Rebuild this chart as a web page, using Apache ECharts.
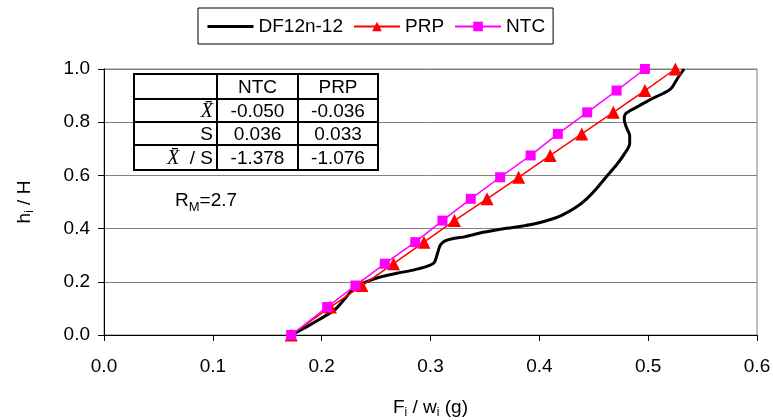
<!DOCTYPE html>
<html>
<head>
<meta charset="utf-8">
<script src="https://cdn.jsdelivr.net/npm/echarts@6/dist/echarts.min.js"></script>
<style>html,body{margin:0;padding:0;background:#fff;}#c{width:773px;height:420px;}</style>
</head>
<body>
<div id="c"></div>
<script>
// ---- data ----
var heights = [0.000, 0.105, 0.186, 0.268, 0.349, 0.430, 0.512, 0.593, 0.675, 0.756, 0.837, 0.919, 1.000];
var ntcX = [0.172, 0.205, 0.231, 0.258, 0.286, 0.311, 0.337, 0.364, 0.392, 0.417, 0.444, 0.471, 0.497];
var prpX = [0.172, 0.208, 0.237, 0.266, 0.294, 0.322, 0.352, 0.381, 0.410, 0.439, 0.468, 0.497, 0.525];
var dfX = [0.172, 0.190, 0.212, 0.222, 0.231, 0.241, 0.253, 0.269, 0.284, 0.296, 0.303, 0.305, 0.307, 0.309, 0.313, 0.320, 0.330, 0.340, 0.350, 0.370, 0.385, 0.397, 0.411, 0.421, 0.433, 0.443, 0.452, 0.461, 0.471, 0.478, 0.483, 0.483, 0.480, 0.478, 0.479, 0.484, 0.491, 0.501, 0.514, 0.521, 0.527, 0.533];
var dfY = [0.000, 0.040, 0.095, 0.140, 0.180, 0.200, 0.217, 0.232, 0.244, 0.257, 0.270, 0.288, 0.315, 0.338, 0.353, 0.362, 0.368, 0.378, 0.387, 0.401, 0.410, 0.419, 0.435, 0.451, 0.478, 0.510, 0.548, 0.592, 0.640, 0.680, 0.720, 0.750, 0.780, 0.810, 0.830, 0.845, 0.860, 0.883, 0.909, 0.927, 0.965, 1.000];
var seriesNames = ['DF12n-12', 'PRP', 'NTC'];
var tableHeaders = ['NTC', 'PRP'];
var tableRowLabels = ['{xb|X\u0304}', '{n|S}', '{xb|X\u0304}{n|  / S}'];
var ntcStats = ['-0.050', '0.036', '-1.378'];
var prpStats = ['-0.036', '0.033', '-1.076'];
var rmLabel = '{r|R}{s|M}{r|=2.7}';

var FONT = '"Liberation Sans", Arial, sans-serif';
function pairs(xs, ys) { return xs.map(function (x, i) { return [x, ys[i]]; }); }

// ---- table graphic ----
var colEdges = [134, 217, 298, 378];
var rowEdges = [74, 99, 122, 145, 170];
var g = [];
g.push({ type: 'rect', shape: { x: colEdges[0], y: rowEdges[0], width: colEdges[3] - colEdges[0], height: rowEdges[4] - rowEdges[0] }, style: { fill: '#fff', stroke: '#000', lineWidth: 2 }, z: 100 });
for (var r = 1; r < rowEdges.length - 1; r++) {
  g.push({ type: 'line', shape: { x1: colEdges[0], y1: rowEdges[r], x2: colEdges[3], y2: rowEdges[r] }, style: { stroke: '#000', lineWidth: 2 }, z: 101 });
}
for (var c = 1; c < colEdges.length - 1; c++) {
  g.push({ type: 'line', shape: { x1: colEdges[c], y1: rowEdges[0], x2: colEdges[c], y2: rowEdges[4] }, style: { stroke: '#000', lineWidth: 2 }, z: 101 });
}
var rich = {
  xb: { fontFamily: '"Liberation Serif", "Times New Roman", serif', fontStyle: 'italic', fontSize: 20, fill: '#000', color: '#000' },
  n: { fontFamily: FONT, fontSize: 19, fill: '#000', color: '#000' }
};
function cellText(txt, cx, cy, align) {
  g.push({ type: 'text', x: cx, y: cy, z: 102, style: { text: txt, font: '19px ' + FONT, fill: '#000', align: align || 'center', verticalAlign: 'middle' } });
}
for (var h = 0; h < tableHeaders.length; h++) {
  cellText(tableHeaders[h], (colEdges[h + 1] + colEdges[h + 2]) / 2, (rowEdges[0] + rowEdges[1]) / 2 + 1);
}
for (var i = 0; i < tableRowLabels.length; i++) {
  var cy = (rowEdges[i + 1] + rowEdges[i + 2]) / 2 + 1;
  g.push({ type: 'text', x: colEdges[1] - 4, y: cy, z: 102, style: { text: tableRowLabels[i], rich: rich, align: 'right', verticalAlign: 'middle' } });
  cellText(ntcStats[i], (colEdges[1] + colEdges[2]) / 2, cy);
  cellText(prpStats[i], (colEdges[2] + colEdges[3]) / 2, cy);
}
g.push({ type: 'text', x: 175, y: 201, z: 102, style: { text: rmLabel, align: 'left', verticalAlign: 'middle',
  rich: { r: { fontFamily: FONT, fontSize: 19, fill: '#000', color: '#000' }, s: { fontFamily: FONT, fontSize: 13, fill: '#000', color: '#000', padding: [12, 0, 0, 0] } } } });

var chart = echarts.init(document.getElementById('c'));
chart.setOption({
  animation: false,
  backgroundColor: '#fff',
  grid: { left: 104, right: 16, top: 69, bottom: 85, show: true, borderColor: '#808080', borderWidth: 1, backgroundColor: 'transparent', containLabel: false, outerBoundsMode: 'none' },
  legend: {
    left: 198, top: 8, orient: 'horizontal',
    borderColor: '#000', borderWidth: 1, borderRadius: 0,
    padding: [9, 8, 8, 8], itemGap: 10, itemWidth: 46, itemHeight: 12,
    textStyle: { fontFamily: FONT, fontSize: 19, color: '#000' },
    data: [
      { name: seriesNames[0], itemStyle: { color: 'rgba(0,0,0,0)', borderWidth: 0, opacity: 0 }, lineStyle: { color: '#000', width: 3 } },
      { name: seriesNames[1] },
      { name: seriesNames[2] }
    ]
  },
  xAxis: {
    type: 'value', min: 0, max: 0.6, interval: 0.1,
    name: '{a|F}{b|i}{a| / w}{b|i}{a| (g)}', nameLocation: 'middle', nameGap: 62,
    nameTextStyle: { rich: { a: { fontFamily: FONT, fontSize: 19, color: '#000' }, b: { fontFamily: FONT, fontSize: 12, color: '#000', padding: [10, 0, 0, 0] } } },
    axisLine: { show: true, onZero: false, lineStyle: { color: '#000', width: 1 } },
    axisTick: { show: true, length: 6, lineStyle: { color: '#000' } },
    axisLabel: { fontFamily: FONT, fontSize: 19, color: '#000', margin: 22, formatter: function (v) { return v.toFixed(1); } },
    splitLine: { show: false }
  },
  yAxis: {
    type: 'value', min: 0, max: 1, interval: 0.2,
    name: '{a|h}{b|i}{a| / H}', nameLocation: 'middle', nameGap: 68, nameRotate: 90,
    nameTextStyle: { rich: { a: { fontFamily: FONT, fontSize: 19, color: '#000' }, b: { fontFamily: FONT, fontSize: 12, color: '#000', padding: [10, 0, 0, 0] } } },
    axisLine: { show: true, onZero: false, lineStyle: { color: '#000', width: 1 } },
    axisTick: { show: true, length: 6, lineStyle: { color: '#000' } },
    axisLabel: { fontFamily: FONT, fontSize: 19, color: '#000', margin: 14, formatter: function (v) { return v.toFixed(1); } },
    splitLine: { show: true, lineStyle: { color: '#808080', width: 1 } }
  },
  series: [
    { name: seriesNames[0], type: 'line', data: pairs(dfX, dfY), smooth: 0.3, showSymbol: false, symbol: 'none',
      lineStyle: { color: '#000', width: 3 }, itemStyle: { color: '#000' }, z: 2 },
    { name: seriesNames[1], type: 'line', data: pairs(prpX, heights), symbol: 'triangle', symbolSize: 13,
      lineStyle: { color: '#ff0000', width: 1.5 }, itemStyle: { color: '#ff0000' }, z: 3 },
    { name: seriesNames[2], type: 'line', data: pairs(ntcX, heights), symbol: 'rect', symbolSize: 10,
      lineStyle: { color: '#ff00ff', width: 1.5 }, itemStyle: { color: '#ff00ff' }, z: 4 }
  ],
  graphic: g
});
</script>
</body>
</html>
